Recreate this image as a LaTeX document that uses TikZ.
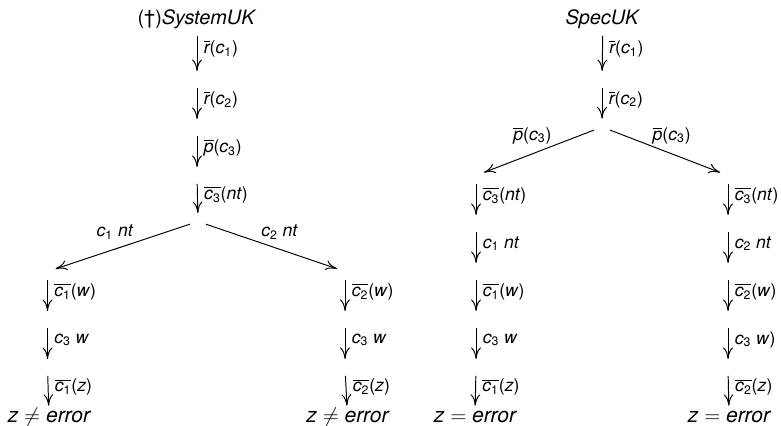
\documentclass[tikz,border=0pt]{standalone}
\usepackage{fontspec}
\setmainfont{TeX Gyre Heros}
\usetikzlibrary{arrows.meta}
\newcommand{\ovl}[1]{$\overline{\mbox{\itshape #1}}$}
\newcommand{\cc}[1]{\textit{c}\textsubscript{\upshape #1}}
\newcommand{\inpar}[1]{\textup{(}#1\textup{)}}
\tikzset{
    >={To[length=6.5pt,width=5.6pt]},
    pt/.style={circle, minimum size=3.2mm, inner sep=0pt},
    lab/.style={font=\itshape\fontsize{10}{12}\selectfont},
    down/.style={lab, right, pos=0.38, inner sep=3.6pt},
    side/.style={lab, above=2pt, pos=0.56},
    head/.style={font=\fontsize{11.3}{13}\selectfont, anchor=base},
    res/.style={
        font=\itshape\fontsize{12}{14}\selectfont,
        anchor=base,
        text height=8pt,
        inner sep=1pt
    }
}

\begin{document}
\begin{tikzpicture}[->, line width=0.55pt]
\useasboundingbox (0,0) rectangle (15.62,-8.52);

% SystemUK
\node[head] (s0) at (3.94,-0.50) {(\textdagger)\textit{SystemUK}};
\node[pt] (s1) at (3.94,-1.59) {};
\node[pt] (s2) at (3.94,-2.55) {};
\node[pt] (s3) at (3.94,-3.51) {};
\node[pt] (s4) at (3.96,-4.43) {};

\node[pt] (sa1) at (0.95,-5.43) {};
\node[pt] (sa2) at (0.95,-6.39) {};
\node[pt] (sa3) at (0.95,-7.35) {};
\node[res] (saz) at (0.98,-8.44) {z $\neq$ error};

\node[pt] (sb1) at (6.90,-5.43) {};
\node[pt] (sb2) at (6.90,-6.39) {};
\node[pt] (sb3) at (6.90,-7.35) {};
\node[res] (sbz) at (6.95,-8.44) {z $\neq$ error};

\path
    (s0) edge node[down] {\ovl{r}\inpar{\cc{1}}} (s1)
    (s1) edge node[down] {\ovl{r}\inpar{\cc{2}}} (s2)
    (s2) edge node[down] {\ovl{p}\inpar{\cc{3}}} (s3)
    (s3) edge node[down] {\ovl{\cc{3}}\inpar{nt}} (s4)

    (s4) edge node[side] {\cc{1} nt} (sa1)
    (s4) edge node[side] {\cc{2} nt} (sb1)

    (sa1) edge node[down] {\ovl{\cc{1}}\inpar{w}} (sa2)
    (sa2) edge node[down] {\cc{3} w} (sa3)
    (sa3) edge node[down] {\ovl{\cc{1}}\inpar{z}} (saz)

    (sb1) edge node[down] {\ovl{\cc{2}}\inpar{w}} (sb2)
    (sb2) edge node[down] {\cc{3} w} (sb3)
    (sb3) edge node[down] {\ovl{\cc{2}}\inpar{z}} (sbz);

% SpecUK
\node[head] (p0) at (12.06,-0.50) {\textit{SpecUK}};
\node[pt] (p1) at (12.04,-1.59) {};
\node[pt] (p2) at (12.04,-2.54) {};

\node[pt] (pa1) at (9.52,-3.51) {};
\node[pt] (pa2) at (9.52,-4.47) {};
\node[pt] (pa3) at (9.52,-5.43) {};
\node[pt] (pa4) at (9.52,-6.39) {};
\node[pt] (pa5) at (9.52,-7.35) {};
\node[res] (paz) at (9.50,-8.44) {z $=$ error};

\node[pt] (pb1) at (14.56,-3.51) {};
\node[pt] (pb2) at (14.56,-4.47) {};
\node[pt] (pb3) at (14.56,-5.43) {};
\node[pt] (pb4) at (14.56,-6.39) {};
\node[pt] (pb5) at (14.56,-7.35) {};
\node[res] (pbz) at (14.58,-8.44) {z $=$ error};

\path
    (p0) edge node[down] {\ovl{r}\inpar{\cc{1}}} (p1)
    (p1) edge node[down] {\ovl{r}\inpar{\cc{2}}} (p2)

    (p2) edge node[side] {\ovl{p}\inpar{\cc{3}}} (pa1)
    (p2) edge node[side] {\ovl{p}\inpar{\cc{3}}} (pb1)

    (pa1) edge node[down] {\ovl{\cc{3}}\inpar{nt}} (pa2)
    (pa2) edge node[down] {\cc{1} nt} (pa3)
    (pa3) edge node[down] {\ovl{\cc{1}}\inpar{w}} (pa4)
    (pa4) edge node[down] {\cc{3} w} (pa5)
    (pa5) edge node[down] {\ovl{\cc{1}}\inpar{z}} (paz)

    (pb1) edge node[down] {\ovl{\cc{3}}\inpar{nt}} (pb2)
    (pb2) edge node[down] {\cc{2} nt} (pb3)
    (pb3) edge node[down] {\ovl{\cc{2}}\inpar{w}} (pb4)
    (pb4) edge node[down] {\cc{3} w\textup{)}} (pb5)
    (pb5) edge node[down] {\ovl{\cc{2}}\inpar{z}} (pbz);

\end{tikzpicture}
\end{document}
